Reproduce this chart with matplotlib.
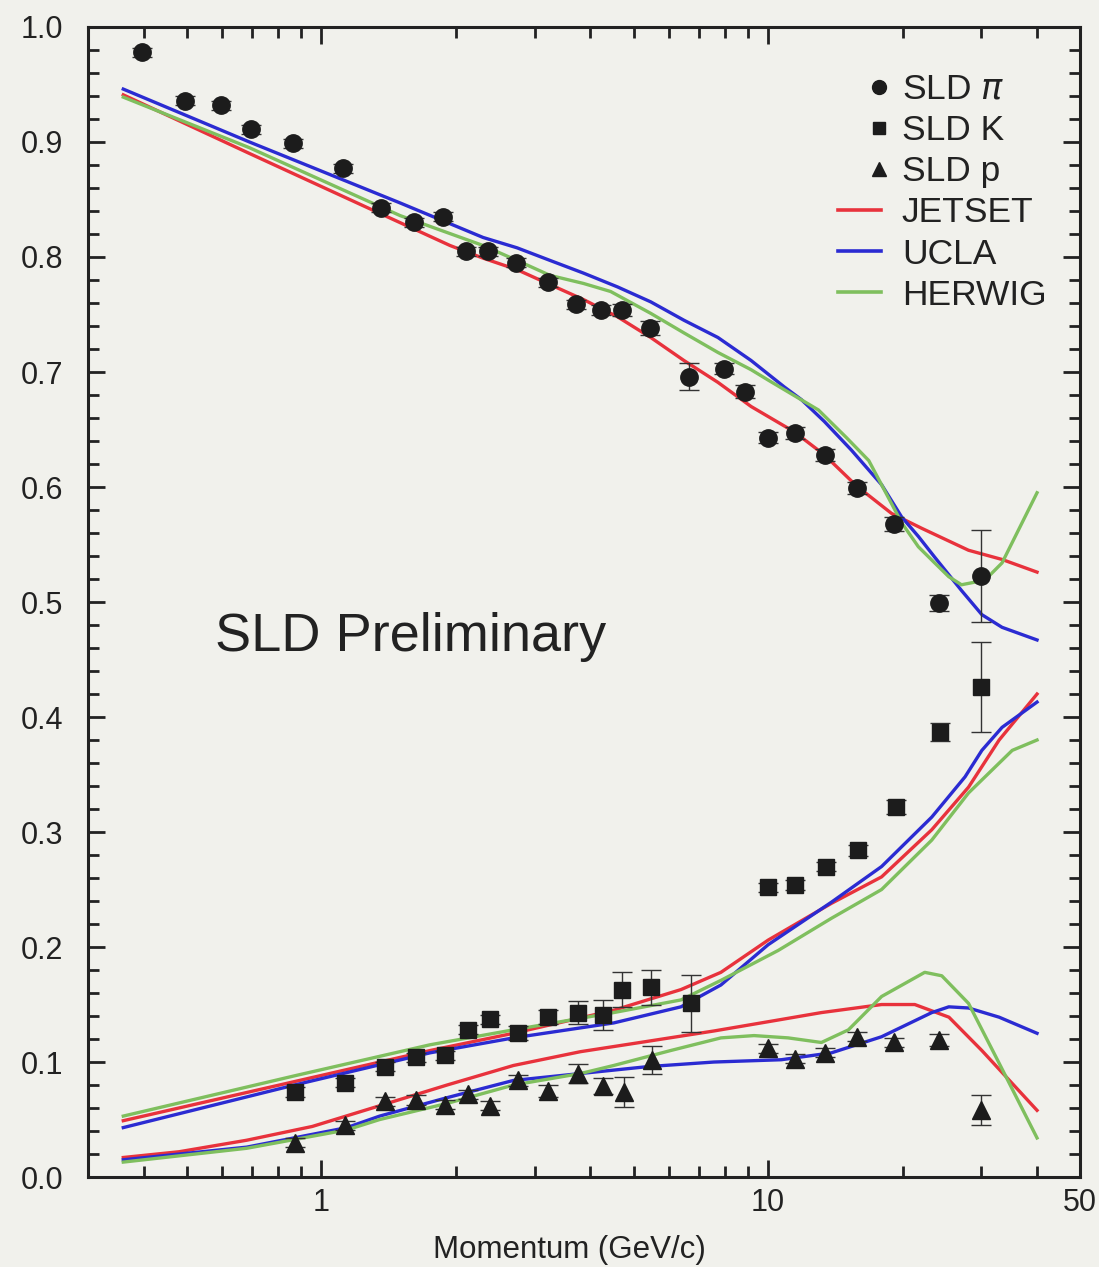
import matplotlib.pyplot as plt
from matplotlib.legend_handler import HandlerLine2DCompound
from matplotlib.lines import Line2D
from matplotlib.ticker import FixedLocator, LogLocator, MultipleLocator, NullFormatter

plt.rcParams["font.family"] = ["Liberation Sans", "DejaVu Sans"]

# ------------------------------------------------------
# SLD measured fractions
# ------------------------------------------------------

pi_p = [0.396, 0.495, 0.596, 0.696, 0.865, 1.12, 1.357, 1.61, 1.87, 2.11,
        2.36, 2.73, 3.22, 3.72, 4.22, 4.72, 5.43, 6.64, 7.96, 8.88,
        10.0, 11.5, 13.4, 15.8, 19.1, 24.1, 29.9]
pi_frac = [0.978, 0.936, 0.932, 0.911, 0.899, 0.877, 0.843, 0.830, 0.835, 0.805,
           0.805, 0.795, 0.778, 0.759, 0.754, 0.754, 0.738, 0.696, 0.703, 0.683,
           0.643, 0.647, 0.628, 0.599, 0.568, 0.499, 0.523]
pi_err = [0.004, 0.004, 0.004, 0.004, 0.004, 0.004, 0.004, 0.004, 0.004, 0.004,
          0.004, 0.004, 0.004, 0.004, 0.004, 0.005, 0.006, 0.012, 0.005, 0.006,
          0.005, 0.005, 0.005, 0.005, 0.006, 0.007, 0.040]

k_p = [0.874, 1.13, 1.39, 1.63, 1.89, 2.13, 2.38, 2.76, 3.22, 3.76,
       4.26, 4.72, 5.46, 6.72, 10.0, 11.5, 13.5, 15.9, 19.3, 24.2, 29.9]
k_frac = [0.074, 0.082, 0.096, 0.104, 0.106, 0.128, 0.137, 0.125, 0.139, 0.143,
          0.141, 0.163, 0.165, 0.151, 0.252, 0.254, 0.270, 0.284, 0.322, 0.387, 0.426]
k_err = [0.004, 0.004, 0.004, 0.004, 0.004, 0.004, 0.004, 0.006, 0.006, 0.010,
         0.013, 0.015, 0.015, 0.025, 0.004, 0.004, 0.004, 0.005, 0.006, 0.008, 0.039]

p_p = [0.874, 1.13, 1.39, 1.63, 1.89, 2.13, 2.38, 2.76, 3.22, 3.76,
       4.26, 4.75, 5.49, 10.0, 11.5, 13.4, 15.8, 19.1, 24.1, 29.9]
p_frac = [0.030, 0.045, 0.066, 0.067, 0.063, 0.072, 0.062, 0.084, 0.075, 0.090,
          0.079, 0.074, 0.102, 0.112, 0.103, 0.108, 0.122, 0.117, 0.119, 0.058]
p_err = [0.004, 0.004, 0.004, 0.004, 0.004, 0.004, 0.004, 0.005, 0.005, 0.008,
         0.007, 0.013, 0.012, 0.004, 0.004, 0.004, 0.004, 0.004, 0.005, 0.013]

# ------------------------------------------------------
# Model predictions
# ------------------------------------------------------

jetset_pi_p = [0.36, 0.69, 1.35, 1.94, 2.30, 2.74, 3.25, 3.86, 4.60, 5.46, 6.48, 7.72,
               9.16, 11.44, 13.36, 15.77, 18.9, 22.1, 28.1, 33.4, 40.0]
jetset_pi = [0.941, 0.890, 0.838, 0.810, 0.799, 0.789, 0.776, 0.763, 0.748, 0.730, 0.710, 0.691,
             0.670, 0.648, 0.628, 0.601, 0.577, 0.564, 0.545, 0.537, 0.526]

ucla_pi_p = [0.36, 0.69, 1.50, 2.30, 2.74, 3.25, 3.86, 4.60, 5.46, 6.48, 7.72, 9.16,
             10.87, 11.87, 13.36, 15.37, 17.95, 19.9, 21.7, 23.6, 27.1, 30.1, 33.4, 40.0]
ucla_pi = [0.946, 0.900, 0.847, 0.817, 0.808, 0.797, 0.786, 0.774, 0.761, 0.745, 0.730, 0.710,
           0.687, 0.676, 0.657, 0.632, 0.602, 0.574, 0.557, 0.539, 0.510, 0.489, 0.478, 0.467]

herwig_pi_p = [0.36, 0.69, 1.50, 2.30, 2.74, 3.25, 3.86, 4.44, 5.46, 6.48, 7.72, 9.16,
               10.0, 12.96, 14.97, 16.8, 18.23, 19.9, 21.7, 23.6, 25.38, 27.1, 30.57, 33.4, 40.0]
herwig_pi = [0.939, 0.895, 0.836, 0.810, 0.797, 0.784, 0.777, 0.770, 0.751, 0.734, 0.717, 0.702,
             0.693, 0.667, 0.643, 0.623, 0.597, 0.569, 0.548, 0.534, 0.522, 0.515, 0.519, 0.534, 0.595]

jetset_k_p = [0.36, 0.87, 1.75, 2.69, 4.51, 6.38, 7.84, 10.0, 13.86, 17.95, 23.25, 28.1, 32.9, 40.0]
jetset_k = [0.049, 0.083, 0.110, 0.125, 0.145, 0.163, 0.178, 0.206, 0.238, 0.261, 0.302, 0.339, 0.380, 0.420]

ucla_k_p = [0.36, 0.87, 1.75, 2.69, 4.51, 6.38, 7.84, 10.0, 13.86, 17.95, 23.25, 27.6, 30.1, 33.4, 40.0]
ucla_k = [0.043, 0.080, 0.108, 0.121, 0.134, 0.148, 0.167, 0.202, 0.239, 0.270, 0.313, 0.348, 0.371, 0.391, 0.413]

herwig_k_p = [0.36, 0.87, 1.75, 2.69, 4.51, 6.38, 7.84, 10.53, 13.86, 17.95, 23.25, 28.1, 35.2, 40.0]
herwig_k = [0.053, 0.088, 0.115, 0.128, 0.143, 0.154, 0.171, 0.197, 0.225, 0.250, 0.293, 0.334, 0.371, 0.380]

jetset_p_p = [0.36, 0.48, 0.68, 0.954, 1.35, 1.91, 2.69, 3.80, 5.37, 7.56, 10.7, 13.16,
              17.95, 21.3, 25.4, 30.1, 40.0]
jetset_p = [0.017, 0.022, 0.032, 0.044, 0.062, 0.080, 0.097, 0.109, 0.118, 0.127, 0.137, 0.143,
            0.150, 0.150, 0.139, 0.110, 0.058]

ucla_p_p = [0.36, 0.68, 1.14, 1.35, 1.91, 2.69, 3.80, 5.37, 7.56, 10.7, 13.86, 17.95,
            23.25, 25.38, 28.1, 32.9, 40.0]
ucla_p = [0.015, 0.026, 0.043, 0.053, 0.069, 0.084, 0.090, 0.096, 0.100, 0.102, 0.108, 0.122,
          0.143, 0.148, 0.147, 0.139, 0.125]

herwig_p_p = [0.36, 0.68, 1.14, 1.35, 1.91, 2.69, 3.80, 4.51, 6.05, 7.84, 9.30, 11.09,
              13.16, 15.13, 17.95, 22.42, 24.48, 28.1, 32.9, 40.0]
herwig_p = [0.013, 0.025, 0.041, 0.050, 0.064, 0.080, 0.090, 0.097, 0.110, 0.121, 0.123, 0.121,
            0.117, 0.128, 0.157, 0.178, 0.175, 0.151, 0.099, 0.034]

bg = "#f1f1ec"
ink = "#1c1c1c"
red = "#e8323c"
blue = "#2b2bd2"
green = "#7fbf5e"


class RightMarker(HandlerLine2DCompound):
    # single marker drawn at the right end of the handle box
    def get_xdata(self, legend, xdescent, ydescent, width, height, fontsize):
        xdata, _ = super().get_xdata(legend, xdescent, ydescent, width, height, fontsize)
        return xdata, [width - xdescent - 0.05 * fontsize]


fig = plt.figure(figsize=(10.99, 12.67), dpi=100, facecolor=bg)
ax = fig.add_axes([0.080, 0.071, 0.903, 0.9077], facecolor=bg)

for xs, ys, c in [
    (jetset_pi_p, jetset_pi, red), (ucla_pi_p, ucla_pi, blue), (herwig_pi_p, herwig_pi, green),
    (jetset_k_p, jetset_k, red), (ucla_k_p, ucla_k, blue), (herwig_k_p, herwig_k, green),
    (jetset_p_p, jetset_p, red), (ucla_p_p, ucla_p, blue), (herwig_p_p, herwig_p, green),
]:
    ax.plot(xs, ys, color=c, lw=2.4, zorder=2, solid_joinstyle="round")

err_kw = dict(ls="none", color=ink, ecolor="#333333", elinewidth=1.0,
              capsize=7, capthick=1.0, zorder=3)
ax.errorbar(pi_p, pi_frac, yerr=pi_err, marker="o", ms=12.5, **err_kw)
ax.errorbar(k_p, k_frac, yerr=k_err, marker="s", ms=11, **err_kw)
ax.errorbar(p_p, p_frac, yerr=p_err, marker="^", ms=12.5, **err_kw)

ax.set_xscale("log")
ax.set_xlim(0.3, 50)
ax.set_ylim(0.0, 1.0)

ax.xaxis.set_major_locator(FixedLocator([1, 10, 50]))
ax.set_xticklabels(["1", "10", "50"])
ax.xaxis.set_minor_locator(LogLocator(base=10, subs=range(2, 10)))
ax.xaxis.set_minor_formatter(NullFormatter())
ax.yaxis.set_major_locator(MultipleLocator(0.1))
ax.yaxis.set_minor_locator(MultipleLocator(0.02))
ax.yaxis.set_major_formatter(plt.FormatStrFormatter("%.1f"))

ax.tick_params(which="both", direction="in", top=True, right=True,
               width=2, color="#222222", labelsize=22, labelcolor="#222222")
ax.tick_params(which="major", length=12)
ax.tick_params(which="minor", length=8)
ax.tick_params(axis="x", pad=8)
ax.tick_params(axis="y", pad=18)
for s in ax.spines.values():
    s.set_linewidth(2.2)
    s.set_color("#222222")

ax.set_xlabel("Momentum (GeV/c)", fontsize=22.5, labelpad=12, color="#222222", x=0.485)

ax.text(0.128, 0.47, "SLD Preliminary", transform=ax.transAxes,
        fontsize=39, color="#222222", va="center", ha="left")

handles = [
    Line2D([], [], ls="none", marker="o", ms=10, color=ink),
    Line2D([], [], ls="none", marker="s", ms=8.5, color=ink),
    Line2D([], [], ls="none", marker="^", ms=10, color=ink),
    Line2D([], [], color=red, lw=2.6),
    Line2D([], [], color=blue, lw=2.6),
    Line2D([], [], color=green, lw=2.6),
]
labels = ["SLD $\\pi$", "SLD K", "SLD p", "JETSET", "UCLA", "HERWIG"]
marker_handler = RightMarker(numpoints=1)
leg = ax.legend(handles, labels, loc="upper left", bbox_to_anchor=(0.756, 0.960),
                frameon=False, fontsize=25.5, handlelength=1.2, handletextpad=0.6,
                labelspacing=0.23, borderpad=0.0, borderaxespad=0.0,
                handler_map={h: marker_handler for h in handles[:3]})
for t in leg.get_texts():
    t.set_color("#222222")

fig.savefig("out.png", dpi=100, facecolor=bg)
